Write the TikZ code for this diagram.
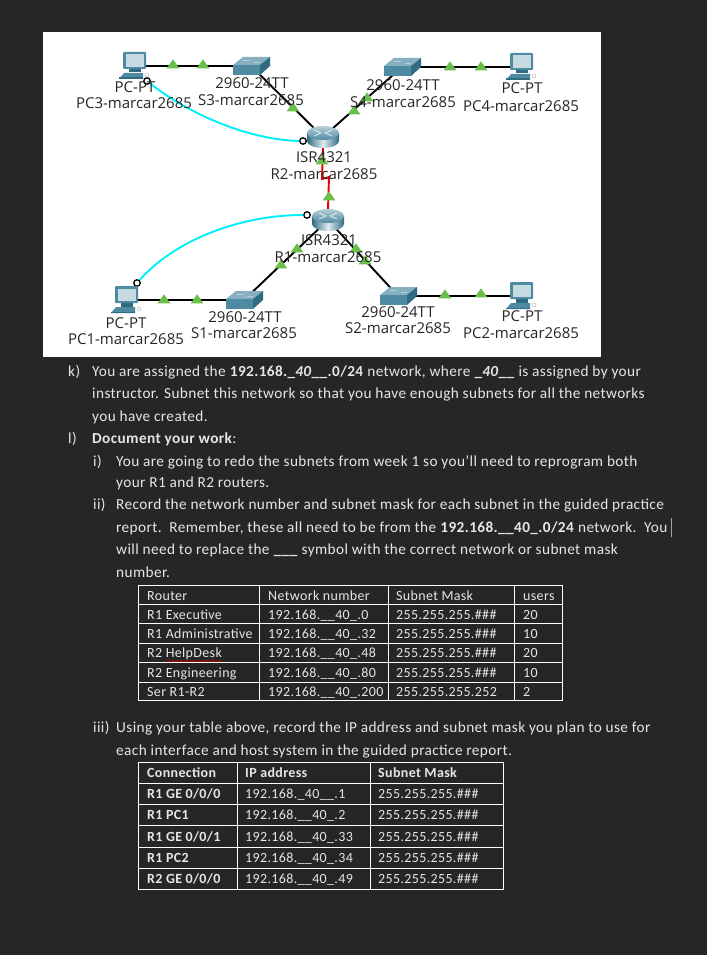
\documentclass[tikz,border=0pt]{standalone}
\usepackage{fontspec}
\setmainfont{Carlito}[LetterSpace=2.5]
\newfontfamily\ptfont{Open Sans}
\usetikzlibrary{shapes.geometric,decorations.pathmorphing}
\definecolor{pagebg}{HTML}{262626}
\definecolor{bodytxt}{HTML}{E6E6E6}
\definecolor{iconmid}{HTML}{4E8BA3}
\definecolor{icondark}{HTML}{2F6C82}
\definecolor{iconlite}{HTML}{86AFBF}
\definecolor{linkgreen}{HTML}{6ABF4B}
\definecolor{conncyan}{RGB}{0,240,250}
\tikzset{
  pics/pcicon/.style={code={
    \fill[iconmid,rounded corners=1pt] (-10,-14) -- (13,-14) -- (13,3) -- (-10,3) -- cycle;
    \fill[iconlite!45!white] (-7.5,-11.5) rectangle (10.5,1);
    \fill[icondark] (-4,3) rectangle (8,6.5);
    \fill[iconmid] (-14,13) -- (-9,7) -- (10,7) -- (10,13) -- cycle;
    \fill[icondark] (-14,11.5) rectangle (10,13);
    \draw[gray!60,fill=white,line width=.4pt] (14,9) circle (2);
  }},
  pics/switchicon/.style={code={
    \fill[iconlite] (-18,-1) -- (-8,-9) -- (19,-9) -- (9,-1) -- cycle;
    \fill[iconmid] (-18,-1) rectangle (9,9);
    \fill[icondark] (9,-1) -- (19,-9) -- (19,0) -- (9,9) -- cycle;
    \draw[iconlite!60!white,line width=.4pt] (-8,-6) -- (-1,-6) (3,-4) -- (9,-4);
  }},
  pics/routericon/.style={code={
    \shade[left color=icondark,right color=icondark,middle color=iconlite!25!white]
      (-16,-4) -- (-16,4) arc[start angle=180,end angle=0,x radius=16,y radius=7] -- (16,-4) -- cycle;
    \shade[top color=iconlite!60!white,bottom color=iconmid] (0,-4) ellipse[x radius=16,y radius=7];
    \draw[white!85!iconlite,line width=.7pt] (-9,-7) -- (-2,-4) (9,-1) -- (2,-4) (-9,-1) -- (-2,-4) (9,-7) -- (2,-4);
  }}
}
\begin{document}
\begin{tikzpicture}[x=1pt,y=-1pt,
  dev/.style={inner sep=0pt,minimum width=#1},
  lbl/.style={font=\ptfont\fontsize{15}{17}\selectfont,text=black!85,inner sep=0pt},
  lnk/.style={black,line width=1.9pt},
  lnkser/.style={red!90!black,line width=1.9pt},
  lnkcon/.style={line width=1.9pt,draw=conncyan},
  port/.style={circle,draw=black,fill=white,line width=1.3pt,inner sep=0pt,minimum size=6.5pt},
  lnkup/.style={isosceles triangle,isosceles triangle apex angle=70,shape border rotate=90,fill=linkgreen,inner sep=0pt,minimum height=9pt,minimum width=11pt},
  txt/.style={font=\fontsize{15.3}{17}\selectfont,text=bodytxt,anchor=base west,inner sep=0pt},
  cell/.style={font=\fontsize{14}{16}\selectfont,text=bodytxt,anchor=base west,inner sep=0pt},
  grid/.style={draw=white,line width=.8pt}]
\fill[pagebg] (0,0) rectangle (707,955);
\fill[white] (43,32) rectangle (601,357);
% devices
\node[dev=34pt,minimum height=28pt] (pc3) at (133,66) {};
\node[dev=34pt,minimum height=28pt] (pc4) at (520,67) {};
\node[dev=34pt,minimum height=28pt] (pc1) at (125,300) {};
\node[dev=34pt,minimum height=28pt] (pc2) at (520,296) {};
\node[dev=37pt,minimum height=18pt] (s3) at (251,66) {};
\node[dev=37pt,minimum height=18pt] (s4) at (402,67) {};
\node[dev=37pt,minimum height=18pt] (s1) at (244,300) {};
\node[dev=37pt,minimum height=18pt] (s2) at (398,296) {};
\node[dev=33pt,minimum height=22pt] (r2) at (323,137) {};
\node[dev=33pt,minimum height=22pt] (r1) at (328,220) {};
\node[port] (pc3port) at (147,81) {};
\node[port] (r2port) at (303,141) {};
\node[port] (pc1port) at (137,283) {};
\node[port] (r1port) at (307,215) {};
\coordinate (r2jog) at (322,179);
\coordinate (r1jog) at (329,177);
% links
\draw[lnk] (pc3.center) -- (s3.center);
\draw[lnk] (s3.center) -- (r2.center);
\draw[lnk] (r2.center) -- (s4.center);
\draw[lnk] (s4.center) -- (pc4.center);
\draw[lnk] (pc1.center) -- (s1.center);
\draw[lnk] (s1.center) -- (r1.center);
\draw[lnk] (r1.center) -- (s2.center);
\draw[lnk] (s2.center) -- (pc2.center);
\draw[lnkser] (r2.south) -- (r2jog) -- (r1jog) -- (r1.north);
\draw[lnkcon] (pc3port) .. controls (190,115) and (250,140) .. (r2port);
\draw[lnkcon] (pc1port) .. controls (175,240) and (240,215) .. (r1port);
\foreach \a in {pc3,pc4,pc1,pc2} \pic at (\a) {pcicon};
\foreach \a in {s3,s4,s1,s2} \pic at (\a) {switchicon};
\foreach \a in {r2,r1} \pic at (\a) {routericon};
% link lights
\foreach \x/\y [count=\i] in {173/65,203/65,293/108,354/111,367/98,450/67,481/67,322/161,329/197,
                              297/249,281/265,356/249,365/261,164/300,197/300,445/295,481/294}
  \node[lnkup] (light\i) at (\x,\y) {};
% device labels
\foreach \x/\y/\lab [count=\i] in {135/87/PC-PT,134/103/PC3-marcar2685,252/83/2960-24TT,251/100/S3-marcar2685,
    403/85/2960-24TT,403/102/S4-marcar2685,522/88/PC-PT,521/106/PC4-marcar2685,
    324/157/ISR4321,324/174/R2-marcar2685,329/240/ISR4321,328/257/R1-marcar2685,
    245/317/2960-24TT,244/333/S1-marcar2685,126/323/PC-PT,126/339/PC1-marcar2685,
    398/312/2960-24TT,398/328/S2-marcar2685,522/316/PC-PT,521/333/PC2-marcar2685}
  \node[lbl] (lab\i) at (\x,\y) {\lab};
% text lines
\node[txt] (k) at (68,376) {k)};
\node[txt] (k1) at (92,376) {You are assigned the \textbf{192.168.\_\textit{40}\_\_.0/24} network, where \textbf{\_\textit{40}\_\_} is assigned by your};
\node[txt] (k2) at (92,398) {instructor. Subnet this network so that you have enough subnets for all the networks};
\node[txt] (k3) at (92,421) {you have created.};
\node[txt] (l) at (68,443) {l)};
\node[txt] (l1) at (92,443) {\textbf{Document your work}:};
\node[txt] (i) at (93,466) {i)};
\node[txt] (i1) at (116,466) {You are going to redo the subnets from week 1 so you’ll need to reprogram both};
\node[txt] (i2) at (116,487) {your R1 and R2 routers.};
\node[txt] (ii) at (93,509) {ii)};
\node[txt] (ii1) at (116,509) {Record the network number and subnet mask for each subnet in the guided practice};
\node[txt] (ii2) at (116,532) {report.\ \ Remember, these all need to be from the \textbf{192.168.\_\_40\_.0/24} network.\ \ You};
\node[txt] (ii3) at (116,554) {will need to replace the \textbf{\_\_\_} symbol with the correct network or subnet mask};
\node[txt] (ii4) at (116,577) {number.};
\draw[gray!70,line width=.6pt] (671,518) -- (671,537);
\node[txt] (iii) at (93,732) {iii)};
\node[txt] (iii1) at (116,732) {Using your table above, record the IP address and subnet mask you plan to use for};
\node[txt] (iii2) at (116,755) {each interface and host system in the guided practice report.};
% first table
\draw[grid] (138,585) rectangle (562,700);
\foreach \y in {604,623,643,662,682} \draw[grid] (138,\y) -- (562,\y);
\foreach \x in {259,388,514} \draw[grid] (\x,585) -- (\x,700);
\foreach \y/\a/\b/\c/\d [count=\i] in {
    600/Router/Network number/Subnet Mask/users,
    619/R1 Executive/192.168.\_\_40\_.0/255.255.255.\#\#\#/20,
    638/R1 Administrative/192.168.\_\_40\_.32/255.255.255.\#\#\#/10,
    657/R2 HelpDesk/192.168.\_\_40\_.48/255.255.255.\#\#\#/20,
    677/R2 Engineering/192.168.\_\_40\_.80/255.255.255.\#\#\#/10,
    696/Ser R1-R2/192.168.\_\_40\_.200/255.255.255.252/2} {
  \node[cell] (ra\i) at (147,\y) {\a};
  \node[cell] (rb\i) at (268,\y) {\b};
  \node[cell] (rc\i) at (396,\y) {\c};
  \node[cell] (rd\i) at (523,\y) {\d};
}
\draw[red!80!black,line width=.5pt,decorate,decoration={zigzag,amplitude=.7pt,segment length=2.4pt}] (166,661) -- (222,661);
% second table
\draw[grid] (138,762) rectangle (503,889);
\foreach \y in {783,804,825,847,868} \draw[grid] (138,\y) -- (503,\y);
\foreach \x in {237,370} \draw[grid] (\x,762) -- (\x,889);
\foreach \y/\a/\b/\c [count=\i] in {
    777/Connection/\textbf{IP address}/\textbf{Subnet Mask},
    798/{R1 GE 0/0/0}/192.168.\_40\_\_.1/255.255.255.\#\#\#,
    819/R1 PC1/192.168.\_\_40\_.2/255.255.255.\#\#\#,
    841/{R1 GE 0/0/1}/192.168.\_\_40\_.33/255.255.255.\#\#\#,
    862/R1 PC2/192.168.\_\_40\_.34/255.255.255.\#\#\#,
    883/{R2 GE 0/0/0}/192.168.\_\_40\_.49/255.255.255.\#\#\#} {
  \node[cell,font=\fontsize{14}{16}\selectfont\bfseries] (ca\i) at (147,\y) {\a};
  \node[cell] (cb\i) at (245,\y) {\b};
  \node[cell] (cc\i) at (378,\y) {\c};
}
\end{tikzpicture}
\end{document}
